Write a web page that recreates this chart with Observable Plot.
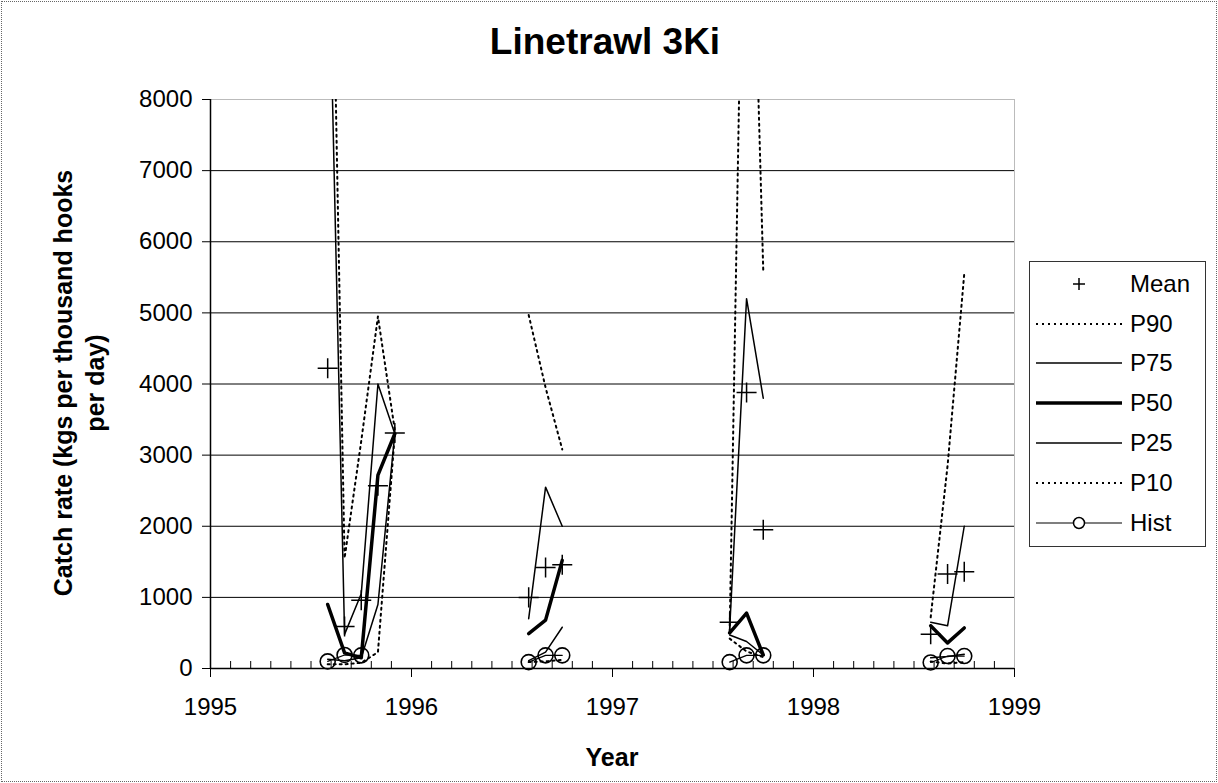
<!DOCTYPE html>
<html><head><meta charset="utf-8">
<script src="https://cdn.jsdelivr.net/npm/d3@7"></script>
<script src="https://cdn.jsdelivr.net/npm/@observablehq/plot@0.6"></script>
<style>
html,body{margin:0;padding:0;background:#fff;}
#chart{position:relative;width:1218px;height:783px;font-family:"Liberation Sans",Arial,sans-serif;color:#000;overflow:hidden;background:#fff}
#chart svg.main{position:absolute;left:0;top:0}
.outer{position:absolute;left:1px;top:1px;width:1214px;height:779px;border:1px dotted #666;pointer-events:none}
.title{position:absolute;left:0;width:1210px;top:22px;text-align:center;font-size:37px;font-weight:bold;line-height:40px}
.ytitle{position:absolute;left:79px;top:383px;transform:translate(-50%,-50%) rotate(-90deg);white-space:nowrap;text-align:center;font-size:25px;font-weight:bold;line-height:32px}
.xtitle{position:absolute;left:0;width:1224px;top:743px;text-align:center;font-size:25px;font-weight:bold;line-height:28px}
.legend{position:absolute;left:1029px;top:261px;width:175px;height:284px;border:1px solid #333;background:#fff}
.legend .row{position:absolute;left:0;height:40px;display:flex;align-items:center}
.legend .row svg{margin-left:6px}
.legend .row span{margin-left:8px;font-size:24px;line-height:24px}
</style>
</head><body>
<div id="chart"></div>
<script>
// ---- data ----
const yearTicks = [1995, 1996, 1997, 1998, 1999];
const yTicks = [0, 1000, 2000, 3000, 4000, 5000, 6000, 7000, 8000];
const gridTicks = [1000, 2000, 3000, 4000, 5000, 6000, 7000];
const minorTicks = [1995.1,1995.2,1995.3,1995.4,1995.5,1995.6,1995.7,1995.8,1995.9,
  1996.1,1996.2,1996.3,1996.4,1996.5,1996.6,1996.7,1996.8,1996.9,
  1997.1,1997.2,1997.3,1997.4,1997.5,1997.6,1997.7,1997.8,1997.9,
  1998.1,1998.2,1998.3,1998.4,1998.5,1998.6,1998.7,1998.8,1998.9];

const seg1995 = [1995.583, 1995.667, 1995.75, 1995.833, 1995.917];
const seg1996 = [1996.583, 1996.667, 1996.75];
const seg1997 = [1997.583, 1997.667, 1997.75];
const seg1998 = [1998.583, 1998.667, 1998.75];
const segments = [seg1995, seg1996, seg1997, seg1998];

const meanVals = [[4220, 590, 960, 2570, 3310], [1000, 1420, 1460], [650, 3880, 1950], [480, 1330, 1360]];
const p90Vals  = [[14000, 1550, 3200, 4950, 3350], [4970, 3950, 3080], [520, 14000, 5600], [720, 2850, 5550]];
const p75Vals  = [[11000, 480, 1050, 4000, 3300], [700, 2550, 2000], [560, 5200, 3800], [650, 600, 2000]];
const p50Vals  = [[900, 220, 150, 2720, 3300], [490, 680, 1520], [500, 780, 190], [600, 360, 570]];
const p25Vals  = [[130, 110, 150, 900, 3300], [110, 230, 580], [470, 380, 190], [150, 170, 200]];
const p10Vals  = [[60, 60, 80, 230, 3300], [90, 100, 120], [420, 240, 160], [100, 70, 90]];
const histVals = [[100, 190, 185], [90, 185, 185], [90, 185, 185], [85, 175, 175]];

const legendNames = ["Mean", "P90", "P75", "P50", "P25", "P10", "Hist"];

// ---- build tables ----
function rows(vals) {
  const out = [];
  vals.forEach((arr, c) => arr.forEach((v, i) => out.push({x: segments[c][i], y: v, cluster: c})));
  return out;
}

const font = '"Liberation Sans", Arial, sans-serif';
const lineStyle = {
  P90: {strokeWidth: 2, strokeDasharray: "2,4"},
  P75: {strokeWidth: 1.5},
  P50: {strokeWidth: 3.5},
  P25: {strokeWidth: 1.5},
  P10: {strokeWidth: 2, strokeDasharray: "2,4"}
};
const seriesVals = {P90: p90Vals, P75: p75Vals, P50: p50Vals, P25: p25Vals, P10: p10Vals};

const lineMarks = Object.keys(seriesVals).map(k =>
  Plot.line(rows(seriesVals[k]), {x: "x", y: "y", z: "cluster", stroke: "#000", clip: true, ...lineStyle[k]}));

const plot = Plot.plot({
  width: 1218, height: 783,
  marginLeft: 210, marginRight: 204, marginTop: 99, marginBottom: 115,
  x: {domain: [1995, 1999], label: null},
  y: {domain: [0, 8000], label: null},
  style: {fontFamily: font, fontSize: "24px", color: "#000", background: "transparent", overflow: "visible"},
  marks: [
    Plot.gridY({ticks: gridTicks, stroke: "#000", strokeOpacity: 1, strokeWidth: 1}),
    Plot.frame({stroke: "#777", strokeDasharray: "1,1"}),
    ...lineMarks,
    Plot.line(rows(histVals), {x: "x", y: "y", z: "cluster", stroke: "#000", strokeWidth: 1.2}),
    Plot.dot(rows(histVals), {x: "x", y: "y", r: 7.5, stroke: "#000", strokeWidth: 1.6, fill: "none"}),
    Plot.dot(rows(meanVals), {x: "x", y: "y", symbol: "plus", r: 6.5, stroke: "#000", strokeWidth: 1.5}),
    Plot.ruleY([0], {stroke: "#000", strokeWidth: 1.5}),
    Plot.ruleX([1995], {stroke: "#000", strokeWidth: 1.5}),
    Plot.axisY({ticks: yTicks, tickSize: 8, tickPadding: 10, tickFormat: d => String(d), fontSize: 24, label: null, stroke: "#000"}),
    Plot.axisX({ticks: yearTicks, tickSize: 9, tickPadding: 20, tickFormat: d => String(d), fontSize: 24, label: null, stroke: "#000"}),
    Plot.axisX({ticks: minorTicks, tickSize: 7, dy: -7, tickFormat: () => "", label: null, stroke: "#000"})
  ]
});
plot.classList.add("main");

const root = document.getElementById("chart");
root.appendChild(plot);

const title = document.createElement("div");
title.className = "title"; title.textContent = "Linetrawl 3Ki";
root.appendChild(title);

const yt = document.createElement("div");
yt.className = "ytitle"; yt.innerHTML = "Catch rate (kgs per thousand hooks<br>per day)";
root.appendChild(yt);

const xt = document.createElement("div");
xt.className = "xtitle"; xt.textContent = "Year";
root.appendChild(xt);

// ---- legend ----
const legend = document.createElement("div");
legend.className = "legend";
const rowCenters = [22, 62, 101, 141, 181, 221, 261];
legendNames.forEach((name, i) => {
  const row = document.createElement("div");
  row.className = "row";
  row.style.top = (rowCenters[i] - 20) + "px";
  let sample = "";
  if (name === "Mean") sample = '<path d="M43,5V17M37,11H49" stroke="#000" stroke-width="1.5" fill="none"/>';
  else if (name === "Hist") sample = '<line x1="0" y1="11" x2="86" y2="11" stroke="#000" stroke-width="1.2"/><circle cx="43" cy="11" r="5.5" stroke="#000" stroke-width="1.5" fill="#fff"/>';
  else {
    const s = lineStyle[name];
    sample = `<line x1="0" y1="11" x2="86" y2="11" stroke="#000" stroke-width="${s.strokeWidth}" ${s.strokeDasharray ? `stroke-dasharray="${s.strokeDasharray}"` : ""}/>`;
  }
  row.innerHTML = `<svg width="86" height="22">${sample}</svg><span>${name}</span>`;
  legend.appendChild(row);
});
root.appendChild(legend);

const outer = document.createElement("div");
outer.className = "outer";
root.appendChild(outer);
</script>
</body></html>
